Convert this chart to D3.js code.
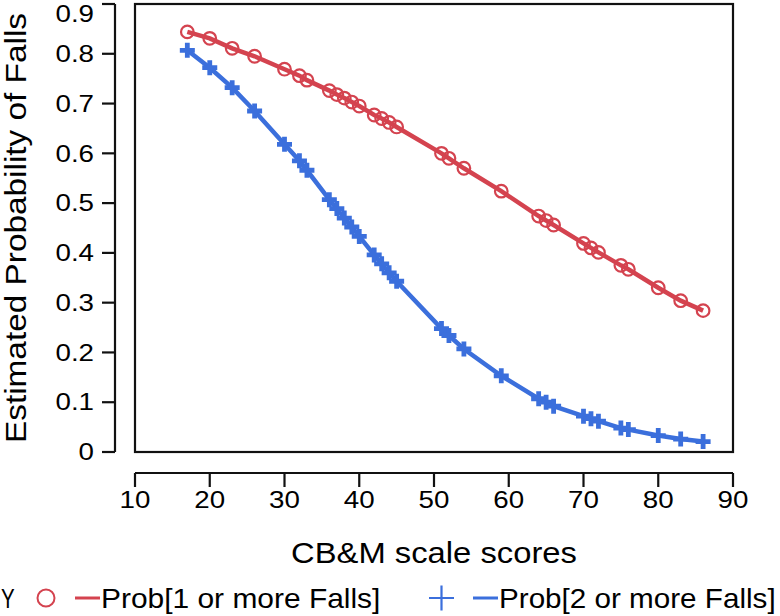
<!DOCTYPE html>
<html><head><meta charset="utf-8">
<script src="https://cdn.jsdelivr.net/npm/d3@7"></script>
<style>body{margin:0;background:#fff}svg{display:block}text{font-family:"Liberation Sans",Arial,sans-serif;fill:#000}</style>
</head><body><svg id="c" width="780" height="616"></svg>
<script>
const scores = [17,20,23,26,30,32,33,36,37,38,39,40,42,43,44,45,51,52,54,59,64,65,66,70,71,72,75,76,80,83,86];
const prob1 = [0.844,0.831,0.811,0.795,0.769,0.756,0.747,0.726,0.718,0.711,0.703,0.695,0.677,0.670,0.662,0.653,0.600,0.590,0.570,0.524,0.474,0.465,0.456,0.419,0.410,0.401,0.375,0.367,0.330,0.304,0.284];
const prob2 = [0.807,0.772,0.732,0.685,0.618,0.585,0.566,0.507,0.489,0.470,0.452,0.433,0.396,0.378,0.360,0.343,0.248,0.234,0.207,0.153,0.107,0.100,0.092,0.072,0.067,0.062,0.048,0.045,0.033,0.026,0.021];
const xTicks = [10,20,30,40,50,60,70,80,90];
const yTicks = [0,0.1,0.2,0.3,0.4,0.5,0.6,0.7,0.8,0.9];
const xTitle = "CB&M scale scores";
const yTitle = "Estimated Probability of Falls";
const legendLabels = ["Prob[1 or more Falls]","Prob[2 or more Falls]"];
const red = "#d4434f", blue = "#3b6fdc";

const svg = d3.select("#c");
const L=135, R=733, T=4, B=452;
const x = d3.scaleLinear().domain([10,90]).range([L,R]);
const y = d3.scaleLinear().domain([0,0.9]).range([B,T]);

function txt(g, tx, ty, s, anchor, fs, sx, rot){
  return g.append("text").attr("transform", `translate(${tx},${ty})` + (rot?` rotate(${rot})`:"") + ` scale(${sx},1)`)
    .attr("text-anchor", anchor).attr("dominant-baseline","central").style("font-size",fs+"px").text(s);
}

// box
svg.append("rect").attr("x",L).attr("y",T).attr("width",R-L).attr("height",B-T)
  .attr("fill","none").attr("stroke","#111").attr("stroke-width",2.2);

// y axis
const ya = svg.append("g");
ya.append("line").attr("x1",115).attr("x2",115).attr("y1",y(0.9)).attr("y2",y(0)).attr("stroke","#111").attr("stroke-width",2.2);
yTicks.forEach(v=>{
  ya.append("line").attr("x1",102).attr("x2",115).attr("y1",y(v)).attr("y2",y(v)).attr("stroke","#111").attr("stroke-width",2.2);
  txt(ya, 94, Math.max(y(v),13.5), v===0?"0":d3.format(".1f")(v), "end", 23.5, 1.18);
});
// x axis
const xa = svg.append("g");
xa.append("line").attr("x1",x(10)).attr("x2",x(90)).attr("y1",473).attr("y2",473).attr("stroke","#111").attr("stroke-width",2.2);
xTicks.forEach(v=>{
  xa.append("line").attr("x1",x(v)).attr("x2",x(v)).attr("y1",473).attr("y2",487).attr("stroke","#111").attr("stroke-width",2.2);
  txt(xa, x(v), 500, String(v), "middle", 23.5, 1.18);
});
txt(svg, (L+R)/2, 553, xTitle, "middle", 29, 1.13);
txt(svg, 16, (T+B)/2, yTitle, "middle", 29, 1.15, -90);

// lines
const line = d3.line().x(d=>x(d[0])).y(d=>y(d[1])).curve(d3.curveLinear);
const d1 = scores.map((s,i)=>[s,prob1[i]]);
const d2 = scores.map((s,i)=>[s,prob2[i]]);
svg.append("path").attr("d",line(d1)).attr("fill","none").attr("stroke",red).attr("stroke-width",4.5);
svg.append("path").attr("d",line(d2)).attr("fill","none").attr("stroke",blue).attr("stroke-width",4.5);
svg.selectAll(".c1").data(d1).join("circle").attr("cx",d=>x(d[0])).attr("cy",d=>y(d[1])).attr("r",6.3)
  .attr("fill","none").attr("stroke",red).attr("stroke-width",2.2);
const P=7.5;
svg.selectAll(".p2").data(d2).join("path").attr("d",d=>`M${x(d[0])-P},${y(d[1])}H${x(d[0])+P}M${x(d[0])},${y(d[1])-P}V${y(d[1])+P}`)
  .attr("stroke",blue).attr("stroke-width",4.8).attr("fill","none");

// legend
const lg = svg.append("g");
const LY = 598;
txt(lg, 1, LY, "Y", "start", 28.5, 0.72);
lg.append("circle").attr("cx",46).attr("cy",LY).attr("r",8.5).attr("fill","none").attr("stroke",red).attr("stroke-width",2);
lg.append("line").attr("x1",75).attr("x2",100).attr("y1",LY).attr("y2",LY).attr("stroke",red).attr("stroke-width",3);
txt(lg, 101, LY, legendLabels[0], "start", 28.5, 1.05);
lg.append("path").attr("d",`M429,${LY}H454M441.5,${LY-12.5}V${LY+12.5}`).attr("stroke",blue).attr("stroke-width",2.2);
lg.append("line").attr("x1",473).attr("x2",498).attr("y1",LY).attr("y2",LY).attr("stroke",blue).attr("stroke-width",3);
txt(lg, 499, LY, legendLabels[1], "start", 28.5, 1.04);
</script></body></html>
